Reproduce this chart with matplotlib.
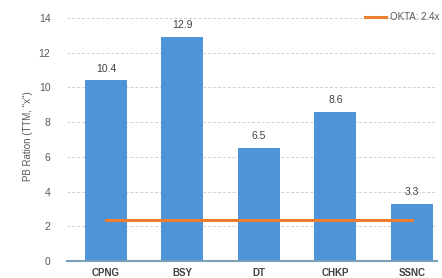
import matplotlib
matplotlib.use('Agg')
import matplotlib.pyplot as plt

tickers = ['CPNG', 'BSY', 'DT', 'CHKP', 'SSNC']
pb_ratio = [10.4, 12.9, 6.5, 8.6, 3.3]
okta_pb = 2.35
okta_label = 'OKTA: 2.4x'

bar_color = '#4e94d8'
line_color = '#ed7d31'

plt.rcParams['font.family'] = ['Liberation Sans', 'DejaVu Sans']

fig = plt.figure(figsize=(4.42, 2.78), dpi=100)
ax = fig.add_axes([67 / 442, 17 / 278, 370 / 442, 250 / 278])

x = list(range(len(tickers)))
bars = ax.bar(x, pb_ratio, width=0.55, color=bar_color, zorder=2)
for xi, v in zip(x, pb_ratio):
    ax.text(xi, v + 0.4, f'{v:.1f}', ha='center', va='bottom', fontsize=7.5, color='#404040')

ax.plot([x[0], x[-1]], [okta_pb, okta_pb], color=line_color, lw=2.2, zorder=3, label=okta_label)

ax.set_xlim(-0.51, 4.33)
ax.set_ylim(0, 14.4)
ax.set_yticks(range(0, 15, 2))
ax.set_xticks(x)
ax.set_xticklabels(tickers, fontsize=7, fontweight='bold', color='#404040')
ax.tick_params(axis='y', labelsize=7.5, colors='#595959', length=0, pad=12)
ax.tick_params(axis='x', length=0, pad=5)
ax.grid(axis='y', color='#d0d0d0', linestyle=(0, (3, 2)), lw=0.7, zorder=0)

for s in ['top', 'right', 'left']:
    ax.spines[s].set_visible(False)
ax.spines['bottom'].set_color('#7aa0b8')
ax.spines['bottom'].set_linewidth(1.5)
ax.spines['bottom'].set_zorder(4)

ax.set_ylabel('PB Ration (TTM, "x")', fontsize=7, color='#595959', labelpad=4)

ax.legend(loc='upper right', bbox_to_anchor=(1.03, 1.03), frameon=False, fontsize=7,
          handlelength=2.2, handletextpad=0.4, labelcolor='#595959')

fig.savefig('out.png', dpi=100)
